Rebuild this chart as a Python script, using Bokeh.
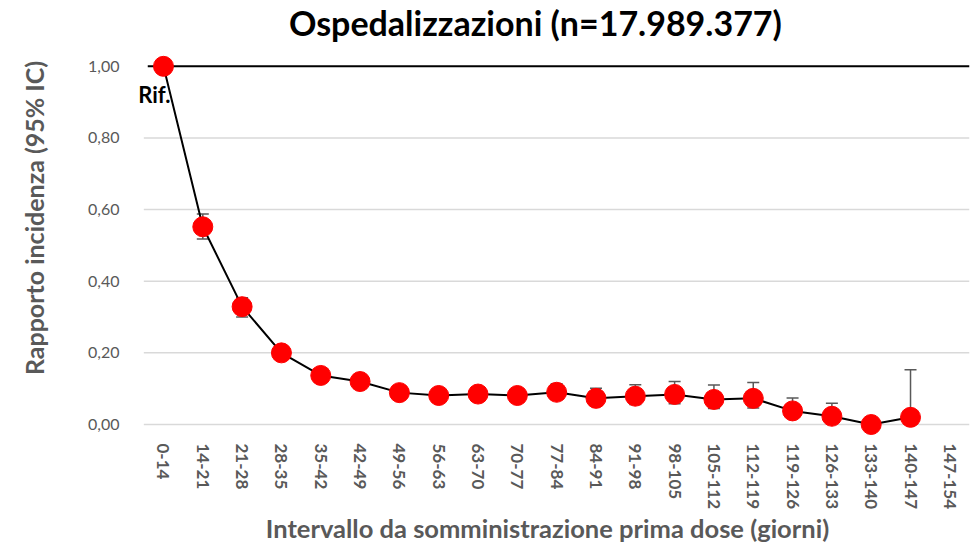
from bokeh.plotting import figure
from bokeh.models import (ColumnDataSource, Range1d, FixedTicker, CustomJSTickFormatter, Label)
from bokeh.embed import file_html
from bokeh.resources import INLINE

categories = ["0-14", "14-21", "21-28", "28-35", "35-42", "42-49", "49-56", "56-63",
              "63-70", "70-77", "77-84", "84-91", "91-98", "98-105", "105-112",
              "112-119", "119-126", "126-133", "133-140", "140-147", "147-154"]
ratio = [1.00, 0.552, 0.329, 0.200, 0.137, 0.120, 0.089, 0.081, 0.085, 0.081,
         0.090, 0.073, 0.079, 0.084, 0.070, 0.073, 0.038, 0.023, 0.000, 0.020]
ci_low = [1.00, 0.518, 0.300, 0.190, 0.128, 0.112, 0.080, 0.072, 0.075, 0.070,
          0.070, 0.055, 0.056, 0.058, 0.045, 0.046, 0.020, 0.009, 0.000, 0.003]
ci_high = [1.00, 0.588, 0.354, 0.210, 0.147, 0.130, 0.098, 0.092, 0.097, 0.094,
           0.114, 0.101, 0.111, 0.120, 0.110, 0.117, 0.074, 0.059, 0.000, 0.153]
y_ticks = [0.0, 0.2, 0.4, 0.6, 0.8, 1.0]

title_text = "Ospedalizzazioni (n=17.989.377)"
x_label = "Intervallo da somministrazione prima dose (giorni)"
y_label = "Rapporto incidenza (95% IC)"

FONT = "Lato"
GRAY = "#595959"

n = len(categories)
idx = list(range(n))
pts = idx[:len(ratio)]

src = ColumnDataSource(dict(x=pts, y=ratio, lo=ci_low, hi=ci_high))

p = figure(width=977, height=546, output_backend="svg", toolbar_location=None,
           x_range=Range1d(-0.966, n - 0.5), y_range=Range1d(-0.0307, 1.1838),
           min_border_left=125, min_border_right=8, min_border_top=0, min_border_bottom=110)
p.outline_line_color = None
p.background_fill_color = "white"
p.border_fill_color = "white"

# y axis
p.yaxis.ticker = FixedTicker(ticks=y_ticks)
p.yaxis.formatter = CustomJSTickFormatter(code="return tick.toFixed(2).replace('.', ',');")
p.yaxis.axis_line_color = None
p.yaxis.major_tick_line_color = None
p.yaxis.minor_tick_line_color = None
p.yaxis.major_label_text_font = FONT
p.yaxis.major_label_text_font_size = "16px"
p.yaxis.major_label_text_color = GRAY
p.yaxis.major_label_standoff = 0
p.yaxis.axis_label = y_label
p.yaxis.axis_label_text_font = FONT
p.yaxis.axis_label_text_font_size = "25px"
p.yaxis.axis_label_text_font_style = "bold"
p.yaxis.axis_label_text_color = GRAY
p.yaxis.axis_label_standoff = 36

# x axis with category labels
p.xaxis.ticker = FixedTicker(ticks=idx)
p.xaxis.major_label_overrides = {i: c for i, c in zip(idx, categories)}
p.xaxis.axis_line_color = None
p.xaxis.major_tick_line_color = None
p.xaxis.minor_tick_line_color = None
p.xaxis.major_label_orientation = "vertical"
p.xaxis.major_label_text_font = FONT
p.xaxis.major_label_text_font_size = "17px"
p.xaxis.major_label_text_font_style = "bold"
p.xaxis.major_label_text_color = GRAY
p.xaxis.major_label_standoff = 2
p.xaxis.axis_label = x_label
p.xaxis.axis_label_text_font = FONT
p.xaxis.axis_label_text_font_size = "25.5px"
p.xaxis.axis_label_text_font_style = "bold"
p.xaxis.axis_label_text_color = GRAY
p.xaxis.axis_label_standoff = 1

p.xgrid.grid_line_color = None
p.ygrid.grid_line_color = None

# horizontal gridlines across the category area
grid_y = y_ticks[:-1]
p.segment(x0=[-0.5] * len(grid_y), x1=[n - 0.5] * len(grid_y), y0=grid_y, y1=grid_y,
          line_color="#d9d9d9", line_width=1.5)
# reference line at 1
p.segment(x0=[-0.4], x1=[n - 0.5], y0=[y_ticks[-1]], y1=[y_ticks[-1]],
          line_color="black", line_width=2)

# error bars (stem + caps)
p.segment(x0="x", x1="x", y0="lo", y1="hi", source=src, line_color=GRAY, line_width=1.5)
p.scatter("x", "hi", source=src, marker="dash", size=12, line_color=GRAY, line_width=1.5)
p.scatter("x", "lo", source=src, marker="dash", size=12, line_color=GRAY, line_width=1.5)

p.line("x", "y", source=src, line_color="black", line_width=2)
p.scatter("x", "y", source=src, size=20, fill_color="#ff0000", line_color="#ff0000")

p.add_layout(Label(x=0.178, y=0.922, text="Rif.", text_align="right", text_baseline="alphabetic",
                   text_font=FONT, text_font_size="22px", text_font_style="bold",
                   text_color="black"))

p.add_layout(Label(x=9.46, y=1.122, text=title_text, text_align="center",
                   text_baseline="alphabetic", text_font=FONT, text_font_size="34px",
                   text_font_style="bold", text_color="black"))

open("out.html", "w").write(file_html(p, INLINE))
